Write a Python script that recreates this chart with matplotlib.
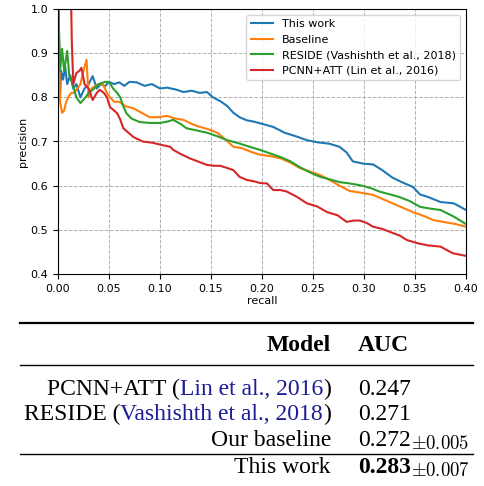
import numpy as np
import matplotlib
matplotlib.use('Agg')
import matplotlib.pyplot as plt

plt.rcParams['mathtext.fontset'] = 'cm'

# PR curve data (recall, precision)
blue_r = [0.0005, 0.002, 0.003, 0.005, 0.007, 0.009, 0.012, 0.015, 0.018, 0.022,
          0.026, 0.030, 0.034, 0.038, 0.042, 0.046, 0.050, 0.055, 0.060, 0.065,
          0.070, 0.077, 0.085, 0.092, 0.100, 0.107, 0.115, 0.123, 0.131, 0.139,
          0.146, 0.152, 0.160, 0.166, 0.172, 0.178, 0.185, 0.192, 0.200, 0.211,
          0.222, 0.233, 0.244, 0.255, 0.266, 0.276, 0.283, 0.289, 0.299, 0.309,
          0.318, 0.328, 0.338, 0.348, 0.355, 0.362, 0.375, 0.388, 0.400]
blue_p = [1.0, 0.80, 0.86, 0.84, 0.87, 0.83, 0.85, 0.82, 0.83, 0.80,
          0.82, 0.83, 0.848, 0.82, 0.83, 0.825, 0.835, 0.83, 0.834, 0.826,
          0.835, 0.834, 0.826, 0.83, 0.82, 0.822, 0.818, 0.812, 0.815, 0.81,
          0.812, 0.80, 0.79, 0.78, 0.765, 0.755, 0.748, 0.745, 0.74, 0.733,
          0.72, 0.712, 0.703, 0.698, 0.695, 0.688, 0.675, 0.655, 0.65, 0.648,
          0.635, 0.618, 0.607, 0.597, 0.58, 0.575, 0.563, 0.56, 0.545]

orange_r = [0.0005, 0.002, 0.004, 0.006, 0.008, 0.010, 0.013, 0.016, 0.019, 0.022,
            0.025, 0.028, 0.030, 0.033, 0.036, 0.040, 0.044, 0.048, 0.051, 0.055,
            0.060, 0.066, 0.074, 0.082, 0.090, 0.098, 0.107, 0.115, 0.123, 0.131,
            0.139, 0.147, 0.156, 0.164, 0.172, 0.180, 0.190, 0.198, 0.208, 0.218,
            0.228, 0.237, 0.247, 0.257, 0.267, 0.276, 0.286, 0.297, 0.309, 0.318,
            0.328, 0.338, 0.348, 0.358, 0.368, 0.380, 0.390, 0.400]
orange_p = [1.0, 0.79, 0.765, 0.77, 0.79, 0.80, 0.81, 0.81, 0.82, 0.83,
            0.86, 0.885, 0.80, 0.82, 0.825, 0.83, 0.83, 0.81, 0.80, 0.79,
            0.79, 0.78, 0.775, 0.765, 0.755, 0.755, 0.758, 0.752, 0.749, 0.74,
            0.733, 0.728, 0.72, 0.705, 0.688, 0.685, 0.676, 0.67, 0.667, 0.662,
            0.652, 0.64, 0.632, 0.624, 0.612, 0.60, 0.588, 0.584, 0.579, 0.57,
            0.56, 0.55, 0.54, 0.532, 0.522, 0.517, 0.513, 0.507]

green_r = [0.0005, 0.002, 0.004, 0.006, 0.008, 0.009, 0.011, 0.014, 0.018, 0.022,
           0.027, 0.030, 0.034, 0.040, 0.046, 0.050, 0.054, 0.058, 0.061, 0.064,
           0.067, 0.072, 0.080, 0.090, 0.100, 0.107, 0.113, 0.120, 0.126, 0.136,
           0.146, 0.156, 0.166, 0.177, 0.188, 0.198, 0.208, 0.218, 0.228, 0.237,
           0.247, 0.257, 0.267, 0.276, 0.286, 0.296, 0.306, 0.316, 0.326, 0.335,
           0.345, 0.355, 0.365, 0.375, 0.388, 0.400]
green_p = [1.0, 0.86, 0.91, 0.86, 0.89, 0.905, 0.85, 0.832, 0.80, 0.787,
           0.80, 0.81, 0.817, 0.83, 0.835, 0.835, 0.82, 0.81, 0.80, 0.78,
           0.764, 0.752, 0.744, 0.742, 0.742, 0.745, 0.749, 0.74, 0.73, 0.725,
           0.72, 0.712, 0.703, 0.696, 0.688, 0.681, 0.673, 0.665, 0.655, 0.642,
           0.63, 0.62, 0.614, 0.608, 0.605, 0.601, 0.595, 0.586, 0.58, 0.574,
           0.565, 0.552, 0.548, 0.545, 0.53, 0.513]

red_r = [0.003, 0.005, 0.008, 0.011, 0.013, 0.0135, 0.015, 0.018, 0.021, 0.023,
         0.026, 0.030, 0.034, 0.038, 0.041, 0.045, 0.048, 0.051, 0.055, 0.058,
         0.061, 0.064, 0.069, 0.074, 0.083, 0.093, 0.102, 0.110, 0.113, 0.120,
         0.129, 0.137, 0.146, 0.153, 0.159, 0.166, 0.172, 0.178, 0.185, 0.192,
         0.198, 0.205, 0.211, 0.218, 0.224, 0.234, 0.244, 0.254, 0.264, 0.274,
         0.283, 0.290, 0.296, 0.303, 0.309, 0.318, 0.328, 0.335, 0.342, 0.352,
         0.362, 0.375, 0.387, 0.400]
red_p = [1.0, 1.0, 1.0, 1.0, 1.0, 0.93, 0.83, 0.855, 0.86, 0.867,
         0.83, 0.82, 0.794, 0.81, 0.817, 0.81, 0.80, 0.778, 0.77, 0.764,
         0.75, 0.73, 0.72, 0.71, 0.70, 0.697, 0.692, 0.688, 0.681, 0.672,
         0.662, 0.655, 0.647, 0.645, 0.645, 0.64, 0.635, 0.62, 0.613, 0.61,
         0.606, 0.605, 0.59, 0.59, 0.587, 0.575, 0.56, 0.553, 0.54, 0.533,
         0.518, 0.521, 0.521, 0.515, 0.507, 0.502, 0.493, 0.487, 0.477, 0.47,
         0.465, 0.462, 0.447, 0.441]

labels = ['This work', 'Baseline', 'RESIDE (Vashishth et al., 2018)',
          'PCNN+ATT (Lin et al., 2016)']

# table contents
tab_models = [[('PCNN+ATT (', 'k'), ('Lin et al., 2016', 'cite'), (')', 'k')],
              [('RESIDE (', 'k'), ('Vashishth et al., 2018', 'cite'), (')', 'k')],
              [('Our baseline', 'k')],
              [('This work', 'k')]]
tab_auc = ['0.247', '0.271', '0.272', '0.283']
tab_std = ['', '', r'$\pm0.005$', r'$\pm0.007$']

W, H = 485, 486
fig = plt.figure(figsize=(W / 100, H / 100), dpi=100)
ax = fig.add_axes([58 / W, 1 - 274 / H, 408 / W, 265 / H])

for r, p, lab in zip([blue_r, orange_r, green_r, red_r],
                     [blue_p, orange_p, green_p, red_p], labels):
	ax.plot(r, p, lw=1.5, label=lab)

ax.set_xlim(0, 0.4)
ax.set_ylim(0.4, 1.0)
ax.set_xticks(np.arange(0, 0.401, 0.05))
ax.set_xticklabels([f'{v:.2f}' for v in np.arange(0, 0.401, 0.05)])
ax.set_yticks(np.arange(0.4, 1.001, 0.1))
ax.set_yticklabels([f'{v:.1f}' for v in np.arange(0.4, 1.001, 0.1)])
ax.tick_params(labelsize=8)
ax.set_xlabel('recall', fontsize=8, labelpad=2)
ax.set_ylabel('precision', fontsize=8, labelpad=2)
ax.grid(ls='--', color='#b0b0b0', lw=0.7)
ax.legend(loc='upper right', fontsize=8)

# ---- table drawn below the plot ----
def fx(x):
	return x / W

def fy(y):
	return 1 - y / H

renderer = fig.canvas.get_renderer()
serif = 'Liberation Serif'
cite_col = '#1c1c96'
fsize = 17

def put_right(pieces, x, y, size=fsize, weight='normal'):
	for txt, col in reversed(pieces):
		c = cite_col if col == 'cite' else 'k'
		t = fig.text(fx(x), fy(y), txt, ha='right', va='baseline', color=c,
		             family=serif, fontsize=size, weight=weight)
		x -= t.get_window_extent(renderer).width

model_right = 331
auc_left = 358

# rules
for y, lw in [(323, 1.6), (365, 1.0), (454, 1.0)]:
	fig.add_artist(plt.Line2D([fx(20), fx(473)], [fy(y), fy(y)], color='k', lw=lw))

put_right([('Model', 'k')], model_right, 351, weight='bold')
fig.text(fx(auc_left), fy(351), 'AUC', ha='left', va='baseline',
         family=serif, fontsize=fsize, weight='bold')

row_base = [395, 420, 446, 473]
for i, pieces in enumerate(tab_models):
	put_right(pieces, model_right, row_base[i])
	w = 'bold' if i == 3 else 'normal'
	t = fig.text(fx(auc_left), fy(row_base[i]), tab_auc[i], ha='left', va='baseline',
	             family=serif, fontsize=fsize, weight=w)
	if tab_std[i]:
		x2 = auc_left + t.get_window_extent(renderer).width
		fig.text(fx(x2), fy(row_base[i] + 3), tab_std[i], ha='left', va='baseline',
		         fontsize=13.5)

fig.savefig('out.png', dpi=100)
